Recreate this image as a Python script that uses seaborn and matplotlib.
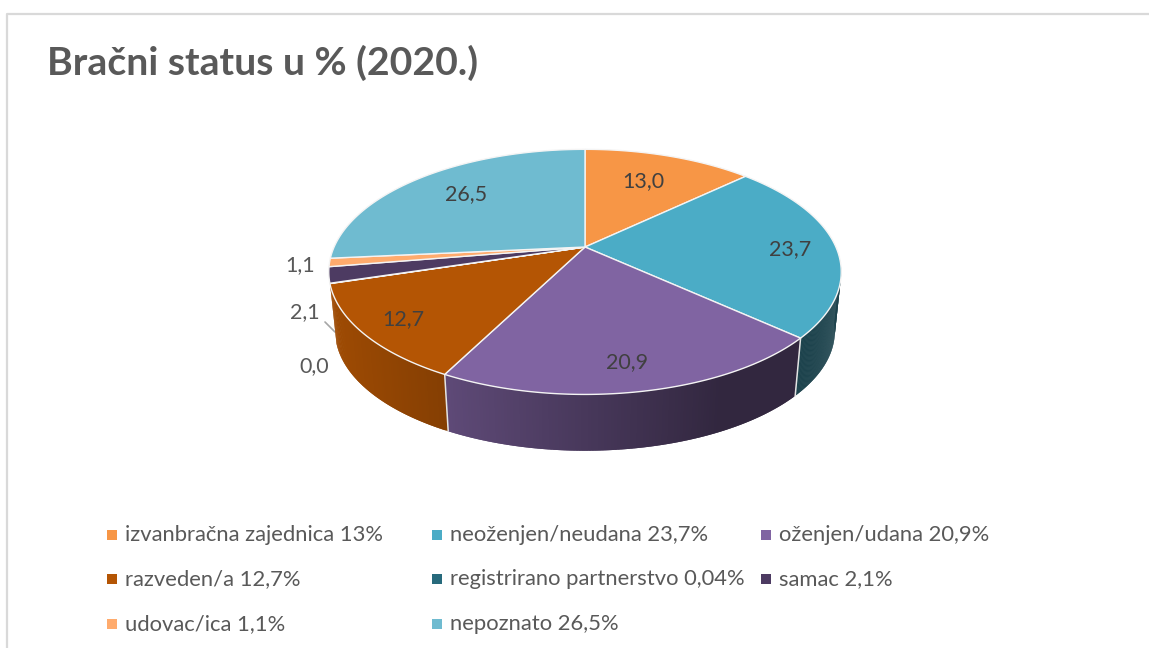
import numpy as np
import matplotlib
matplotlib.use('Agg')
import matplotlib.pyplot as plt
import seaborn as sns

title = 'Bračni status u % (2020.)'
categories = ['izvanbračna zajednica', 'neoženjen/neudana', 'oženjen/udana', 'razveden/a',
              'registrirano partnerstvo', 'samac', 'udovac/ica', 'nepoznato']
values = [13.0, 23.7, 20.9, 12.7, 0.04, 2.1, 1.1, 26.5]
value_labels = ['13,0', '23,7', '20,9', '12,7', '0,0', '2,1', '1,1', '26,5']
legend_labels = ['13%', '23,7%', '20,9%', '12,7%', '0,04%', '2,1%', '1,1%', '26,5%']
hex_colors = ['#F79646', '#4BACC6', '#8064A2', '#B45504', '#276A7C', '#4D3B62', '#FFAB6D', '#6FBBD0']

# layout, all in pixels of the 1149x648 picture
CX, CY = 585, 247
A, B, K = 117.5, 250.9, 0.203
DEPTH, BOTTOM_SCALE = 60, 0.975
WALL_FROM, WALL_TO = np.radians(98), np.radians(252.6)
label_xy = [(643, 181), (790, 249), (627, 362), (403, 319), (314, 366), (305, 312), (300, 265), (466, 194)]
legend_x = [107, 432, 761]
legend_y = [535, 579, 624]
TEXT = '#595959'
DARK = '#404040'

sns.set_style('white')
plt.rcParams['font.family'] = ['Lato', 'DejaVu Sans']
colors = sns.color_palette(hex_colors)


def project(theta):
    # clockwise angle from the top of the pie -> perspective view of the disc
    u, v = np.sin(theta), np.cos(theta)
    w = 1 + K * v
    return CX + B * u / w, CY - A * v / w


def bottom(x, y):
    return CX + BOTTOM_SCALE * (x - CX), CY + DEPTH + BOTTOM_SCALE * (y - CY)


def shade(color, x):
    f = np.clip(0.88 - 0.00125 * (x - 330), 0.39, 1)
    return tuple(c * f for c in color)


fig = plt.figure(figsize=(11.49, 6.48), dpi=100)
ax = fig.add_axes([0, 0, 1, 1])
ax.set_xlim(0, 1149)
ax.set_ylim(648, 0)
ax.axis('off')

# chart frame
ax.plot([7, 7, 1149], [648, 14, 14], color='#D9D9D9', lw=1.6)

fractions = np.array(values) / sum(values)
edges = np.concatenate([[0], np.cumsum(fractions)]) * 2 * np.pi

# leader line goes under the pie
ax.plot([325, 335], [322, 332], color='#A6A6A6', lw=1.2)

# side walls, as overlapping strips so the shading runs along the rim without seams
for i in range(len(values)):
    start, end = max(edges[i], WALL_FROM), min(edges[i + 1], WALL_TO)
    if end <= start:
        continue
    thetas = np.linspace(start, end, max(3, int(values[i] * 6)))
    xs, ys = project(thetas)
    bx, by = bottom(xs, ys)
    for j in range(len(thetas) - 1):
        k = min(j + 2, len(thetas) - 1)
        col = shade(colors[i], (xs[j] + xs[j + 1]) / 2)
        ax.fill(np.r_[xs[j:k + 1], bx[j:k + 1][::-1]], np.r_[ys[j:k + 1], by[j:k + 1][::-1]],
                color=col, lw=0, zorder=2)
    if edges[i] >= WALL_FROM:
        ax.plot([xs[0], bx[0]], [ys[0], by[0]], color='#E4E4E4', lw=1.1, zorder=3)

# top of the pie
for i in range(len(values)):
    thetas = np.linspace(edges[i], edges[i + 1], max(2, int(values[i] * 6)))
    xs, ys = project(thetas)
    ax.fill(np.r_[CX, xs], np.r_[CY, ys], facecolor=colors[i], edgecolor='#F4F4F4', lw=1.0, zorder=4)

for i, lab in enumerate(value_labels):
    # labels outside the pie are lighter than the ones on the slices
    outside = i in (4, 5, 6)
    ax.text(*label_xy[i], lab, ha='center', va='center', fontsize=15.5,
            color=TEXT if outside else DARK, zorder=6)

ax.text(47, 63, title, fontsize=28.3, fontweight='bold', color=TEXT, va='center', ha='left')

# legend, read row by row
for i, name in enumerate(categories):
    row, col = i // 3, i % 3
    lx, ly = legend_x[col], legend_y[row]
    sns.scatterplot(x=[lx + 5], y=[ly], marker='s', s=52, color=hex_colors[i], linewidth=0, ax=ax, legend=False)
    ax.text(lx + 18, ly, f'{name} {legend_labels[i]}', fontsize=15.8, color=TEXT, va='center', ha='left')

ax.set_xlim(0, 1149)
ax.set_ylim(648, 0)
fig.savefig('out.png', dpi=100)
